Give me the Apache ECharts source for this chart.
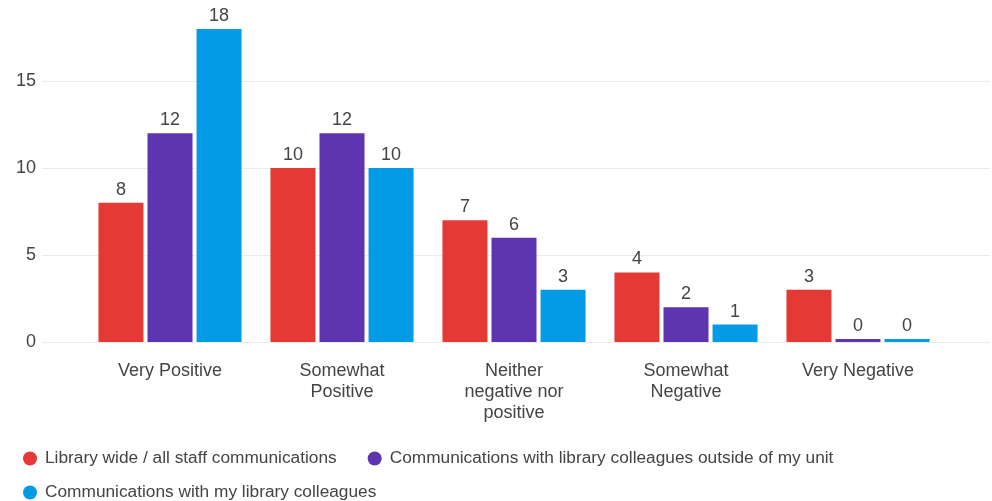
<!DOCTYPE html>
<html>
<head>
<meta charset="utf-8">
<script src="https://cdn.jsdelivr.net/npm/echarts@6/dist/echarts.min.js"></script>
<style>
	html, body { margin: 0; padding: 0; background: #fff; }
	#chart { width: 992px; height: 501px; }
</style>
</head>
<body>
<div id="chart"></div>
<script>
const categories = ["Very Positive", "Somewhat Positive", "Neither negative nor positive", "Somewhat Negative", "Very Negative"];
const tickLabels = ["Very Positive", "Somewhat\nPositive", "Neither\nnegative nor\npositive", "Somewhat\nNegative", "Very Negative"];
const seriesNames = [
	"Library wide / all staff communications",
	"Communications with library colleagues outside of my unit",
	"Communications with my library colleagues"
];
const libraryWide = [8, 10, 7, 4, 3];
const outsideUnit = [12, 12, 6, 2, 0];
const myColleagues = [18, 10, 3, 1, 0];
const colors = ["#e53935", "#5e35b1", "#039be5"];

const FONT = "'Liberation Sans', Arial, sans-serif";
const TEXT = "#444";
// top of the plot is cut off in the picture, so the axis stops a bit under 20
const Y_MAX = 19.66;

const chart = echarts.init(document.getElementById("chart"));

function barSeries (name, data, color) {
	return {
		name: name,
		type: "bar",
		data: data,
		xAxisIndex: 1,
		yAxisIndex: 1,
		barWidth: 45,
		barGap: "9%",
		barMinHeight: 3,
		itemStyle: { color: color },
		label: {
			show: true,
			position: "top",
			distance: 4,
			color: TEXT,
			fontFamily: FONT,
			fontSize: 18
		}
	};
}

const legendText = {
	color: TEXT,
	fontFamily: FONT,
	fontSize: 17.3,
	padding: [0, 0, 0, 3]
};

option = {
	animation: false,
	backgroundColor: "#fff",
	grid: [
		{ left: 42, right: 2, top: 0, bottom: 159 },
		{ left: 84, right: 48, top: 0, bottom: 159 }
	],
	xAxis: [{
		type: "category",
		gridIndex: 0,
		data: categories,
		show: false
	}, {
		type: "category",
		gridIndex: 1,
		data: categories,
		axisLine: { show: false },
		axisTick: { show: false },
		axisLabel: {
			interval: 0,
			margin: 19,
			color: TEXT,
			fontFamily: FONT,
			fontSize: 18,
			lineHeight: 21,
			formatter: (v, i) => tickLabels[i]
		}
	}],
	yAxis: [{
		type: "value",
		gridIndex: 0,
		min: 0,
		max: Y_MAX,
		interval: 5,
		axisLine: { show: false },
		axisTick: { show: false },
		splitLine: {
			lineStyle: {
				color: ["#ebebeb", "#ebebeb", "#ebebeb", "#ebebeb", "rgba(0,0,0,0)"],
				width: 1
			}
		},
		axisLabel: {
			margin: 6,
			showMaxLabel: false,
			color: TEXT,
			fontFamily: FONT,
			fontSize: 18,
			formatter: v => (v > 15 ? "" : v)
		}
	}, {
		type: "value",
		gridIndex: 1,
		min: 0,
		max: Y_MAX,
		interval: 5,
		show: false,
		splitLine: { show: false }
	}],
	legend: [{
		left: 18,
		top: 445,
		icon: "circle",
		itemWidth: 14,
		itemHeight: 14,
		itemGap: 31,
		data: [seriesNames[0], seriesNames[1]],
		textStyle: legendText
	}, {
		left: 18,
		top: 479,
		icon: "circle",
		itemWidth: 14,
		itemHeight: 14,
		data: [seriesNames[2]],
		textStyle: legendText
	}],
	series: [
		barSeries(seriesNames[0], libraryWide, colors[0]),
		barSeries(seriesNames[1], outsideUnit, colors[1]),
		barSeries(seriesNames[2], myColleagues, colors[2])
	]
};

chart.setOption(option);
window.onresize = chart.resize;
</script>
</body>
</html>
